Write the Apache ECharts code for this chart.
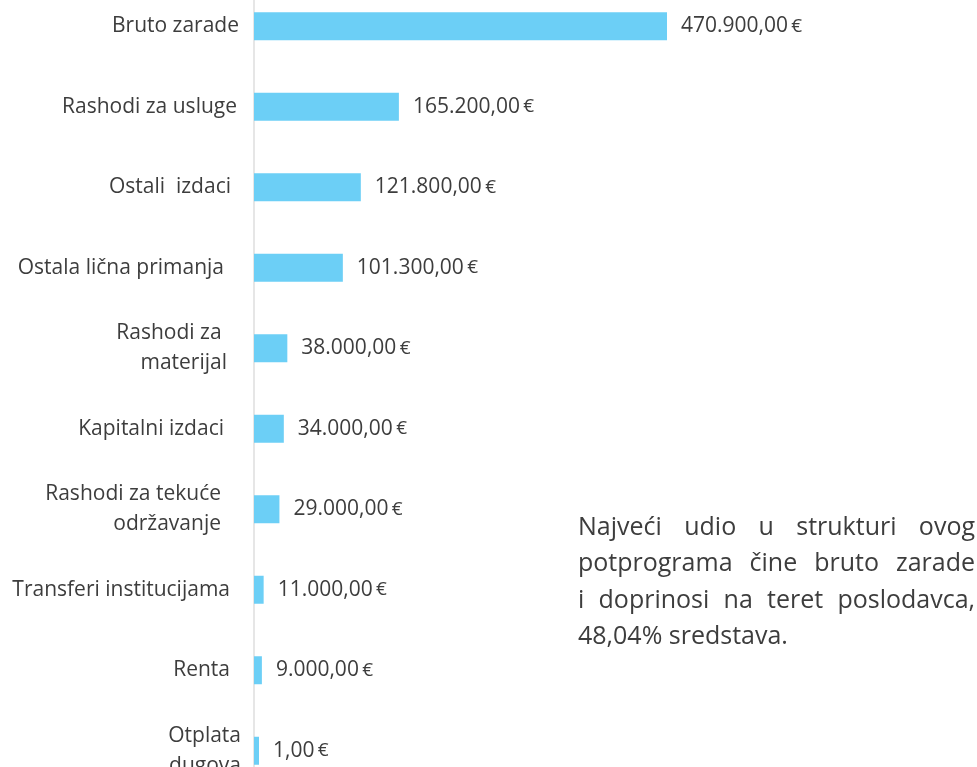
<!DOCTYPE html>
<html>
<head>
<meta charset="utf-8">
<script src="https://cdn.jsdelivr.net/npm/echarts@6/dist/echarts.min.js"></script>
<style>
html,body{margin:0;padding:0;background:#fff;}
#chart{width:977px;height:767px;}
</style>
</head>
<body>
<div id="chart"></div>
<script>
const categories = ['Bruto zarade', 'Rashodi za usluge', 'Ostali  izdaci', 'Ostala lična primanja', 'Rashodi za \nmaterijal', 'Kapitalni izdaci', 'Rashodi za tekuće\nodržavanje', 'Transferi institucijama', 'Renta', 'Otplata\ndugova'];
const values = [470900, 165200, 121800, 101300, 38000, 34000, 29000, 11000, 9000, 1];
const noteLines = ['Najveći udio u strukturi ovog', 'potprograma čine bruto zarade', 'i doprinosi na teret poslodavca,', '48,04% sredstava.'];

const TEXT = '#3d3d3d';
const FONT = "'Open Sans', sans-serif";
// per-label right offsets (styling only) to mimic the reference's ragged label edges
const labelPad = [2, 4, 10, 17, 14, 17, 20, 11, 11, 0];

function fmt(v) {
  const parts = v.toFixed(2).split('.');
  const intPart = parts[0].replace(/\B(?=(\d{3})+(?!\d))/g, '.');
  return intPart + ',' + parts[1];
}

const chart = echarts.init(document.getElementById('chart'), null, {renderer: 'canvas'});

// justified note text
const noteFontSize = 25;
const noteLeft = 578, noteRight = 975, noteTop = 527.5, noteStep = 36.5;
const noteFont = noteFontSize + "px 'Open Sans'";
const ctx = document.createElement('canvas').getContext('2d');
ctx.font = noteFont;
const graphics = [];
noteLines.forEach((line, i) => {
  const y = noteTop + i * noteStep;
  const justify = i < noteLines.length - 1;
  if (!justify) {
    graphics.push({type: 'text', x: noteLeft, y: y, style: {text: line, fill: TEXT, font: noteFont, verticalAlign: 'middle', align: 'left'}});
    return;
  }
  const words = line.split(' ');
  const widths = words.map(w => ctx.measureText(w).width);
  const total = widths.reduce((a, b) => a + b, 0);
  const gap = (noteRight - noteLeft - total) / (words.length - 1);
  let x = noteLeft;
  words.forEach((w, j) => {
    graphics.push({type: 'text', x: x, y: y, style: {text: w, fill: TEXT, font: noteFont, verticalAlign: 'middle', align: 'left'}});
    x += widths[j] + gap;
  });
});

const rich = {};
labelPad.forEach(p => {
  rich['p' + p] = {color: TEXT, fontFamily: FONT, fontSize: 21, lineHeight: 30, padding: [0, p, 0, 0], align: 'right'};
});

chart.setOption({
  backgroundColor: '#ffffff',
  animation: false,
  grid: {left: 254, top: -14, width: 413, height: 805, containLabel: false, outerBoundsMode: 'none'},
  xAxis: {
    type: 'value', min: 0, max: 470900,
    show: false, splitLine: {show: false}
  },
  yAxis: {
    type: 'category', inverse: true, data: categories,
    axisLine: {show: true, lineStyle: {color: '#e6e6e6', width: 2}},
    axisTick: {show: false},
    axisLabel: {
      color: TEXT, fontFamily: FONT, fontSize: 21, margin: 13, lineHeight: 30, align: 'right',
      formatter: (val, idx) => {
        const tag = 'p' + labelPad[idx];
        return val.split('\n').map(s => '{' + tag + '|' + s + '}').join('\n');
      },
      rich: rich
    }
  },
  series: [{
    type: 'bar', data: values, barWidth: 28, barMinHeight: 5,
    itemStyle: {color: '#6ccff6'},
    label: {
      show: true, position: 'right', distance: 14,
      formatter: p => '{v|' + fmt(p.value) + '} {e|€}',
      rich: {
        v: {color: TEXT, fontFamily: FONT, fontSize: 21},
        e: {color: TEXT, fontFamily: FONT, fontSize: 19}
      }
    }
  }],
  graphic: graphics
});
</script>
</body>
</html>
